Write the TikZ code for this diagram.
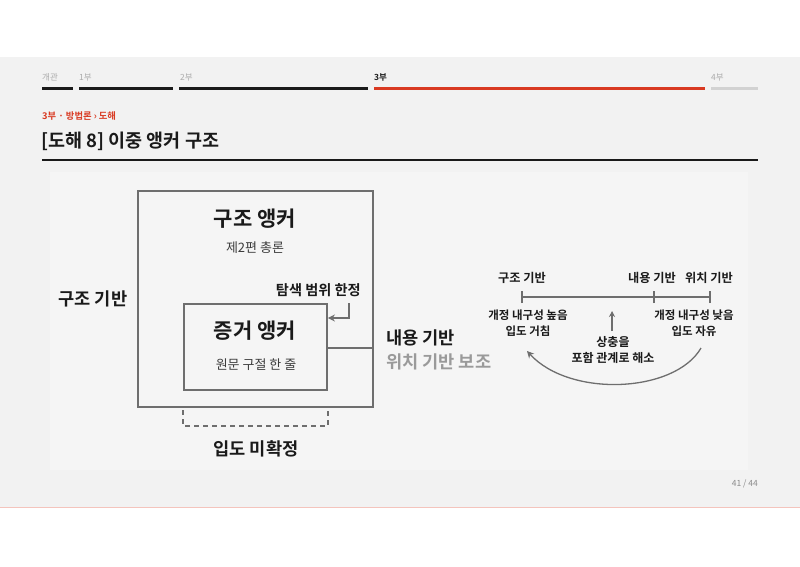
\documentclass[tikz,border=0pt]{standalone}
\usepackage{fontspec}
\setmainfont{Noto Sans CJK KR}[BoldFont={Noto Sans CJK KR Bold}]
\usetikzlibrary{arrows.meta}
\definecolor{pagebg}{HTML}{F2F2F2}
\definecolor{panelbg}{HTML}{F5F5F5}
\definecolor{accent}{HTML}{D93A22}
\definecolor{linegray}{HTML}{6E6E6E}
\definecolor{softgray}{HTML}{9A9A9A}
\definecolor{navgray}{HTML}{ABABAB}
\definecolor{barlight}{HTML}{D2D2D2}
\definecolor{inkdark}{HTML}{1A1A1A}
\tikzset{
  navlbl/.style={anchor=west,font=\fontsize{8.5}{9}\selectfont,text=navgray,inner sep=0pt},
  navbar/.style={line width=3pt},
  boxln/.style={draw=linegray,line width=1.8pt},
  bigbold/.style={font=\fontsize{21}{24}\selectfont\bfseries,text=inkdark,inner sep=0pt},
  midbold/.style={font=\fontsize{17.6}{20}\selectfont\bfseries,text=inkdark,inner sep=0pt},
  small/.style={font=\fontsize{13}{15}\selectfont,text=inkdark!85,inner sep=0pt},
  lbl/.style={font=\fontsize{14.2}{16}\selectfont\bfseries,text=inkdark,inner sep=0pt},
  scl/.style={font=\fontsize{12.2}{14}\selectfont\bfseries,text=inkdark,inner sep=0pt,align=center},
  arr/.style={draw=linegray,line width=1.5pt,-{Stealth[length=7pt,width=7pt]}},
}
\begin{document}
\begin{tikzpicture}[x=1pt,y=-1pt]
\useasboundingbox (0,0) rectangle (800,566);
\fill[white] (0,0) rectangle (800,566);
\fill[pagebg] (0,57) rectangle (800,507);
\draw[color=accent!30,line width=0.8pt] (0,507) -- (800,507);
\fill[panelbg] (50,172) rectangle (748,470);
% navigation
\node[navlbl] (n0) at (42,77) {개관};
\node[navlbl] (n1) at (79,77) {1부};
\node[navlbl] (n2) at (180,77) {2부};
\node[navlbl,text=inkdark,font=\fontsize{8.5}{9}\selectfont\bfseries] (n3) at (374,77) {3부};
\node[navlbl] (n4) at (711,77) {4부};
\draw[navbar,inkdark] (42,88) -- (73,88);
\draw[navbar,inkdark] (79,88) -- (173,88);
\draw[navbar,inkdark] (179,88) -- (368,88);
\draw[navbar,accent] (374,88) -- (705,88);
\draw[navbar,barlight] (711,88) -- (758,88);
% heading
\node[anchor=west,inner sep=0pt,text=accent,font=\fontsize{9.3}{10}\selectfont\bfseries] (crumb) at (42,116) {3부 · 방법론 › 도해};
\node[anchor=west,inner sep=0pt,text=inkdark,font=\fontsize{18.5}{21}\selectfont\bfseries] (title) at (41,141) {[도해 8] 이중 앵커 구조};
\draw[inkdark,line width=1.3pt] (42,160) -- (758,160);
% left diagram
\node[boxln,minimum width=235pt,minimum height=216pt,inner sep=0pt] (outer) at (255.5,299) {};
\node[boxln,minimum width=143pt,minimum height=86pt,inner sep=0pt] (inner) at (255.5,347) {};
\node[bigbold] (sa) at (255,219) {구조 앵커};
\node[small] (sasub) at (255,248) {제2편 총론};
\node[bigbold] (ea) at (255,331) {증거 앵커};
\node[small] (easub) at (256,365) {원문 구절 한 줄};
\node[lbl,anchor=east] (scope) at (361,290) {탐색 범위 한정};
\coordinate (scopeA) at (349,303);
\coordinate (scopeB) at (349,318);
\draw[arr,line width=1.3pt] (scopeA) -- (scopeB) -- (scopeB -| inner.east);
\coordinate (joinR) at (outer.east |- 0,348);
\draw[draw=linegray,line width=1.8pt] (inner.east |- joinR) -- (joinR);
\node[midbold,anchor=east] (sbase) at (127.5,299) {구조 기반};
\node[midbold,anchor=west] (cbase) at (386,338) {내용 기반};
\node[midbold,anchor=west,text=softgray] (pbase) at (386,362) {위치 기반 보조};
\coordinate (brL) at (inner.west |- 0,410);
\coordinate (brR) at (inner.east |- 0,410);
\draw[draw=linegray,line width=1.5pt,dash pattern=on 5pt off 4pt] (brL) -- ++(0,16) -| (brR);
\node[midbold] (undet) at (256,449) {입도 미확정};
% right scale
\coordinate (t1) at (522,297);
\coordinate (t2) at (654,297);
\coordinate (t3) at (710,297);
\draw[linegray,line width=1.5pt] (t1) -- (t3);
\foreach \c in {t1,t2,t3} \draw[linegray,line width=1.5pt] ([yshift=-6pt]\c) -- ([yshift=6pt]\c);
\node[scl] (s1) at (522,278) {구조 기반};
\node[scl] (s2) at (652,278) {내용 기반};
\node[scl] (s3) at (709,278) {위치 기반};
\node[scl,font=\fontsize{11.5}{16}\selectfont\bfseries] (hi) at (528,323) {개정 내구성 높음\\입도 거침};
\node[scl,font=\fontsize{11.5}{16}\selectfont\bfseries] (lo) at (694,323) {개정 내구성 낮음\\입도 자유};
\node[scl,font=\fontsize{12}{16}\selectfont\bfseries] (res) at (613,350) {상충을\\포함 관계로 해소};
\coordinate (upA) at (612,331);
\coordinate (upB) at (612,311);
\draw[arr,line width=1.3pt,-{Stealth[length=6pt,width=6pt]}] (upA) -- (upB);
\coordinate (cvA) at (701,348);
\coordinate (cvB) at (527,351);
\draw[arr,line width=1.3pt] (cvA) .. controls (675,393) and (570,398) .. (cvB);
% page number
\node[anchor=east,inner sep=0pt,text=softgray!90!black,font=\fontsize{8.5}{9}\selectfont] (pg) at (758,484) {41 / 44};
\end{tikzpicture}
\end{document}
